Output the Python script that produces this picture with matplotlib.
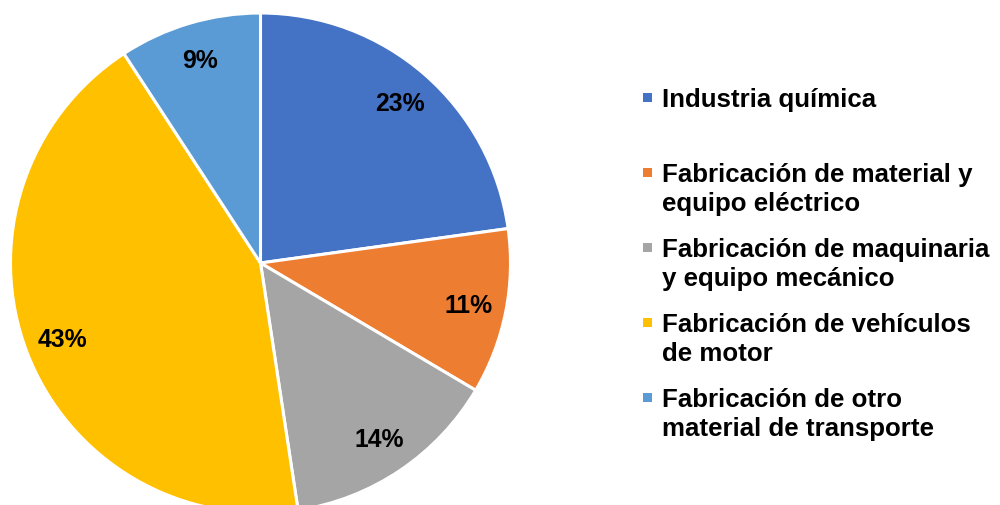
import os
import matplotlib
matplotlib.use("Agg")
import matplotlib.pyplot as plt
from matplotlib.patches import Rectangle
from matplotlib import font_manager as fm

categories = [
    "Industria química",
    "Fabricación de material y\nequipo eléctrico",
    "Fabricación de maquinaria\ny equipo mecánico",
    "Fabricación de vehículos\nde motor",
    "Fabricación de otro\nmaterial de transporte",
]
values = [22.8, 10.7, 14.1, 43.2, 9.2]
colors = ["#4472C4", "#ED7D31", "#A5A5A5", "#FFC000", "#5B9BD5"]

def fp(size):
    return fm.FontProperties(family=["Liberation Sans", "DejaVu Sans"], weight="bold", size=size)

W, H = 1000, 506
fig = plt.figure(figsize=(W / 100, H / 100), dpi=100)

cx, cy, R = 260.5, 264, 250
ax = fig.add_axes([(cx - R) / W, (H - cy - R) / H, 2 * R / W, 2 * R / H])
wedges, texts, autotexts = ax.pie(
    values, colors=colors, startangle=90, counterclock=False,
    autopct=lambda p: f"{p:.0f}%", pctdistance=0.848, radius=1,
    wedgeprops=dict(edgecolor="white", linewidth=2.2),
)
for t in autotexts:
    t.set_fontproperties(fp(17.8))
    t.set_color("black")
for w in wedges:
    w.set_clip_on(False)
ax.set_xlim(-1, 1)
ax.set_ylim(-1, 1)
ax.set_aspect("equal")
ax.axis("off")

# legend, drawn as evenly spaced slots
x_mark, x_text = 647, 662
first_baseline, step, line_gap = 107, 75, 29.5
for i, (lab, col) in enumerate(zip(categories, colors)):
    base = first_baseline + i * step
    fig.patches.append(Rectangle(((x_mark - 4.5) / W, 1 - (base - 4) / H), 9 / W, 9 / H,
                                 transform=fig.transFigure, facecolor=col, edgecolor="none"))
    for j, line in enumerate(lab.split("\n")):
        fig.text(x_text / W, 1 - (base + j * line_gap) / H, line, fontproperties=fp(18.6),
                 ha="left", va="baseline", color="black")

fig.savefig("out.png", dpi=100)
